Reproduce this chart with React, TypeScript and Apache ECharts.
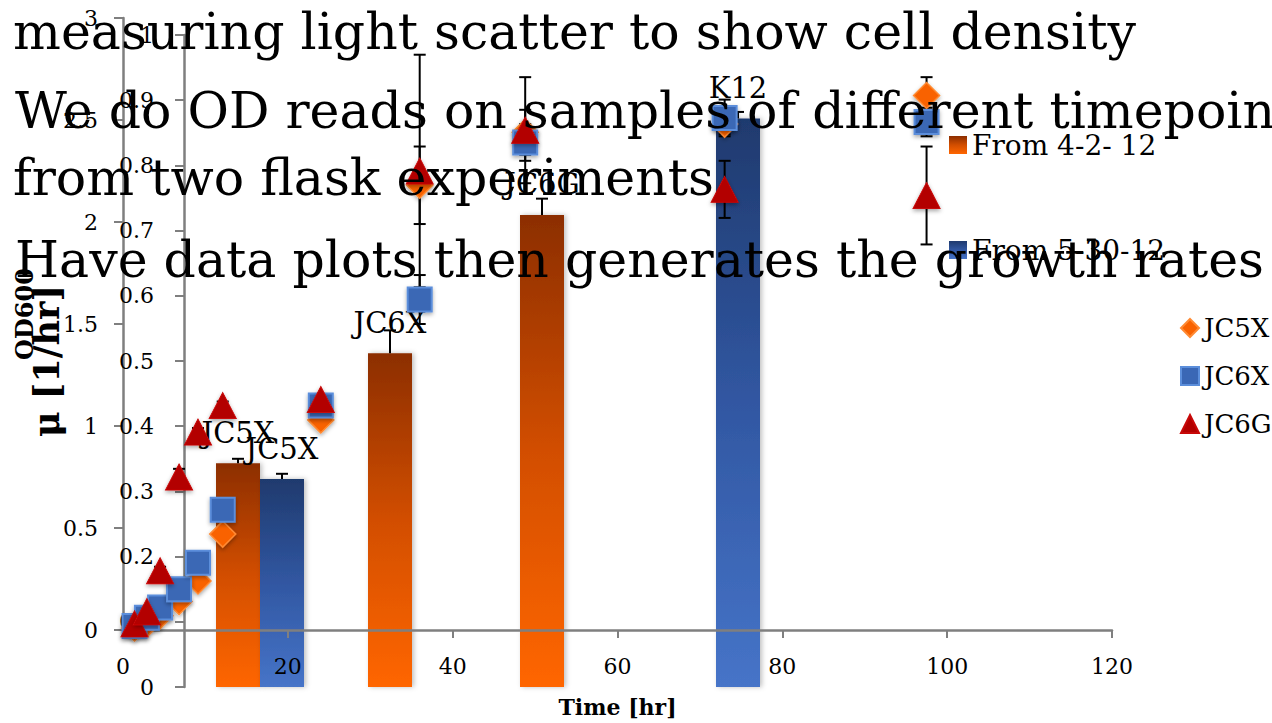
import React, { useEffect, useRef } from "react";
import * as echarts from "echarts";

const FONT = '"DejaVu Serif", serif';

// ---- Scatter (OD600 vs time) ----
const times = [1.4, 2.9, 4.5, 6.8, 9.1, 12.1, 24.0, 36.0, 48.8, 73.0, 97.5];
const jc5x = [0.01, 0.03, 0.07, 0.14, 0.24, 0.47, 1.03, 2.18, 2.44, 2.48, 2.62];
const jc5xErr = [0.01, 0.01, 0.01, 0.01, 0.01, 0.01, 0.02, 0.19, 0.11, 0.05, 0.09];
const jc6x = [0.02, 0.06, 0.11, 0.2, 0.33, 0.59, 1.1, 1.62, 2.39, 2.51, 2.49];
const jc6xErr = [0.01, 0.01, 0.01, 0.01, 0.01, 0.01, 0.02, 0.12, 0.09, 0.09, 0.07];
const jc6g = [0.03, 0.09, 0.29, 0.75, 0.97, 1.1, 1.13, 2.25, 2.45, 2.16, 2.13];
const jc6gErr = [0.01, 0.01, 0.02, 0.04, 0.02, 0.02, 0.02, 0.57, 0.26, 0.14, 0.24];

// ---- Bars (growth rate) ----
const rateCategories = ["JC5X", "JC6X", "JC6G", "K12"];
const rateFromApr: (number | null)[] = [0.343, 0.512, 0.724, null];
const rateFromAprErr: (number | null)[] = [0.007, 0.035, 0.025, null];
const rateFromMay: (number | null)[] = [0.319, null, null, 0.872];
const rateFromMayErr: (number | null)[] = [0.008, null, null, 0.01];

// ---- Slide text ----
const slideLines = [
  "measuring light scatter to show cell density",
  "We do OD reads on samples of different timepoints",
  "from two flask experiments",
  "Have data plots then generates the growth rates",
];
const slideLineX = [13, 15, 13, 15];
const slideLineY = [31, 110, 177, 259];

const AXIS_GRAY = "#7F7F7F";

function scatterErrSeries(values: number[], errs: number[]) {
  return {
    type: "custom",
    xAxisIndex: 0,
    yAxisIndex: 0,
    z: 3,
    silent: true,
    data: times.map((t, i) => [t, values[i], errs[i]]),
    renderItem: (_p: any, api: any) => {
      const x = api.value(0);
      const y = api.value(1);
      const e = api.value(2);
      const top = api.coord([x, y + e]);
      const bot = api.coord([x, y - e]);
      const hw = 6;
      const st = { stroke: "#000", lineWidth: 2 };
      return {
        type: "group",
        children: [
          { type: "line", shape: { x1: top[0], y1: top[1], x2: bot[0], y2: bot[1] }, style: st },
          { type: "line", shape: { x1: top[0] - hw, y1: top[1], x2: top[0] + hw, y2: top[1] }, style: st },
          { type: "line", shape: { x1: bot[0] - hw, y1: bot[1], x2: bot[0] + hw, y2: bot[1] }, style: st },
        ],
      };
    },
  };
}

function barErrSeries(values: (number | null)[], errs: (number | null)[], side: number) {
  const data: number[][] = [];
  values.forEach((v, i) => {
    if (v != null && errs[i] != null) data.push([i, v, errs[i] as number]);
  });
  return {
    type: "custom",
    xAxisIndex: 1,
    yAxisIndex: 1,
    z: 2,
    silent: true,
    data,
    renderItem: (_p: any, api: any) => {
      const c = api.value(0);
      const v = api.value(1);
      const e = api.value(2);
      const base = api.coord([c, v]);
      const top = api.coord([c, v + e]);
      const x = base[0] + side * 22;
      const st = { stroke: "#000", lineWidth: 2 };
      return {
        type: "group",
        children: [
          { type: "line", shape: { x1: x, y1: base[1], x2: x, y2: top[1] }, style: st },
          { type: "line", shape: { x1: x - 6, y1: top[1], x2: x + 6, y2: top[1] }, style: st },
        ],
      };
    },
  };
}

export default function App() {
  const ref = useRef<HTMLDivElement>(null);
  useEffect(() => {
    if (!ref.current) return;
    const chart = echarts.init(ref.current, undefined, { renderer: "svg" });
    const orangeGrad = new echarts.graphic.LinearGradient(0, 0, 0, 1, [
      { offset: 0, color: "#8C2E00" },
      { offset: 0.5, color: "#D24E00" },
      { offset: 1, color: "#FF6600" },
    ]);
    const blueGrad = new echarts.graphic.LinearGradient(0, 0, 0, 1, [
      { offset: 0, color: "#1F3A6E" },
      { offset: 0.5, color: "#3157A2" },
      { offset: 1, color: "#4674C8" },
    ]);
    const markerShadow = { shadowBlur: 4, shadowColor: "rgba(0,0,0,0.35)", shadowOffsetY: 2 };
    const barLabel = {
      show: true,
      position: "top",
      distance: 16,
      formatter: "{b}",
      color: "#000",
      fontFamily: FONT,
      fontSize: 29,
    };
    chart.setOption({
      animation: false,
      backgroundColor: "#fff",
      textStyle: { fontFamily: FONT },
      grid: [
        { left: 123, top: 18, width: 989, height: 616 },
        { left: 184, top: 35, width: 608, height: 652 },
      ],
      xAxis: [
        {
          type: "value",
          gridIndex: 0,
          min: 0,
          max: 120,
          interval: 20,
          z: 2,
          axisLine: { show: true, lineStyle: { color: AXIS_GRAY, width: 2.5 } },
          axisTick: { show: true, length: 8, lineStyle: { color: AXIS_GRAY, width: 2 } },
          axisLabel: { fontFamily: FONT, fontSize: 22, color: "#000", margin: 25 },
          splitLine: { show: false },
          name: "Time [hr]",
          nameLocation: "middle",
          nameGap: 66,
          nameTextStyle: { fontFamily: FONT, fontSize: 22, fontWeight: "bold", color: "#000" },
        },
        {
          type: "category",
          gridIndex: 1,
          data: rateCategories,
          show: false,
        },
      ],
      yAxis: [
        {
          type: "value",
          gridIndex: 0,
          min: 0,
          max: 3,
          interval: 0.5,
          axisLine: { show: true, lineStyle: { color: AXIS_GRAY, width: 2.5 } },
          axisTick: { show: true, length: 9, lineStyle: { color: AXIS_GRAY, width: 2 } },
          axisLabel: { fontFamily: FONT, fontSize: 22, color: "#000", margin: 25 },
          splitLine: { show: false },
          name: "OD600",
          nameLocation: "middle",
          nameRotate: 90,
          nameGap: 87,
          nameTextStyle: {
            fontFamily: FONT,
            fontSize: 24,
            fontWeight: "bold",
            color: "#000",
            padding: [0, 0, 0, 20],
          },
        },
        {
          type: "value",
          gridIndex: 1,
          min: 0,
          max: 1,
          interval: 0.1,
          axisLine: { show: true, lineStyle: { color: AXIS_GRAY, width: 2.5 } },
          axisTick: { show: true, length: 9, lineStyle: { color: AXIS_GRAY, width: 2 } },
          axisLabel: { fontFamily: FONT, fontSize: 22, color: "#000", margin: 30 },
          splitLine: { show: false },
          name: "μ [1/hr]",
          nameLocation: "middle",
          nameRotate: 90,
          nameGap: 120,
          nameTextStyle: { fontFamily: FONT, fontSize: 35, fontWeight: "bold", color: "#000" },
        },
      ],
      legend: [
        {
          data: [
            { name: "From 4-2- 12", icon: "rect" },
            { name: "From 5-30-12", icon: "rect" },
          ],
          orient: "vertical",
          left: 944,
          top: 126,
          itemWidth: 18,
          itemHeight: 18,
          itemGap: 77,
          textStyle: { fontFamily: FONT, fontSize: 28, color: "#000" },
        },
        {
          data: [
            { name: "JC5X", icon: "diamond" },
            { name: "JC6X", icon: "rect" },
            { name: "JC6G", icon: "triangle" },
          ],
          orient: "vertical",
          left: 1175,
          top: 310,
          itemWidth: 18,
          itemHeight: 18,
          itemGap: 22,
          textStyle: { fontFamily: FONT, fontSize: 26, color: "#000" },
        },
      ],
      series: [
        {
          type: "bar",
          name: "From 4-2- 12",
          xAxisIndex: 1,
          yAxisIndex: 1,
          data: rateFromApr,
          barWidth: 44,
          barGap: "0%",
          z: 1,
          itemStyle: { color: orangeGrad, shadowBlur: 5, shadowColor: "rgba(0,0,0,0.25)", shadowOffsetX: 2 },
          label: barLabel,
        },
        {
          type: "bar",
          name: "From 5-30-12",
          xAxisIndex: 1,
          yAxisIndex: 1,
          data: rateFromMay,
          barWidth: 44,
          barGap: "0%",
          z: 1,
          itemStyle: { color: blueGrad, shadowBlur: 5, shadowColor: "rgba(0,0,0,0.25)", shadowOffsetX: 2 },
          label: barLabel,
        },
        barErrSeries(rateFromApr, rateFromAprErr, -1),
        barErrSeries(rateFromMay, rateFromMayErr, 1),
        scatterErrSeries(jc5x, jc5xErr),
        scatterErrSeries(jc6x, jc6xErr),
        scatterErrSeries(jc6g, jc6gErr),
        {
          type: "scatter",
          name: "JC5X",
          xAxisIndex: 0,
          yAxisIndex: 0,
          z: 4,
          data: times.map((t, i) => [t, jc5x[i]]),
          symbol: "diamond",
          symbolSize: [26, 26],
          itemStyle: { color: "#F96200", borderColor: "#FF8A33", borderWidth: 1.5, opacity: 1, ...markerShadow },
        },
        {
          type: "scatter",
          name: "JC6X",
          xAxisIndex: 0,
          yAxisIndex: 0,
          z: 4,
          data: times.map((t, i) => [t, jc6x[i]]),
          symbol: "rect",
          symbolSize: [24, 24],
          itemStyle: { color: "#3A67B5", borderColor: "#5B8EDB", borderWidth: 2, opacity: 1, ...markerShadow },
        },
        {
          type: "scatter",
          name: "JC6G",
          xAxisIndex: 0,
          yAxisIndex: 0,
          z: 4,
          data: times.map((t, i) => [t, jc6g[i]]),
          symbol: "triangle",
          symbolSize: [27, 26],
          itemStyle: { color: "#B30000", borderColor: "#C80808", borderWidth: 1, opacity: 1, ...markerShadow },
        },
      ],
      graphic: slideLines.map((line, i) => ({
        type: "text",
        x: slideLineX[i],
        y: slideLineY[i],
        z: 100,
        silent: true,
        style: {
          text: line,
          font: `50.5px ${FONT}`,
          fill: "#000",
          verticalAlign: "middle",
          align: "left",
        },
      })),
    });
    return () => chart.dispose();
  }, []);
  return (
    <div
      ref={ref}
      style={{ position: "fixed", left: 0, top: 0, width: 1272, height: 723 }}
    />
  );
}
